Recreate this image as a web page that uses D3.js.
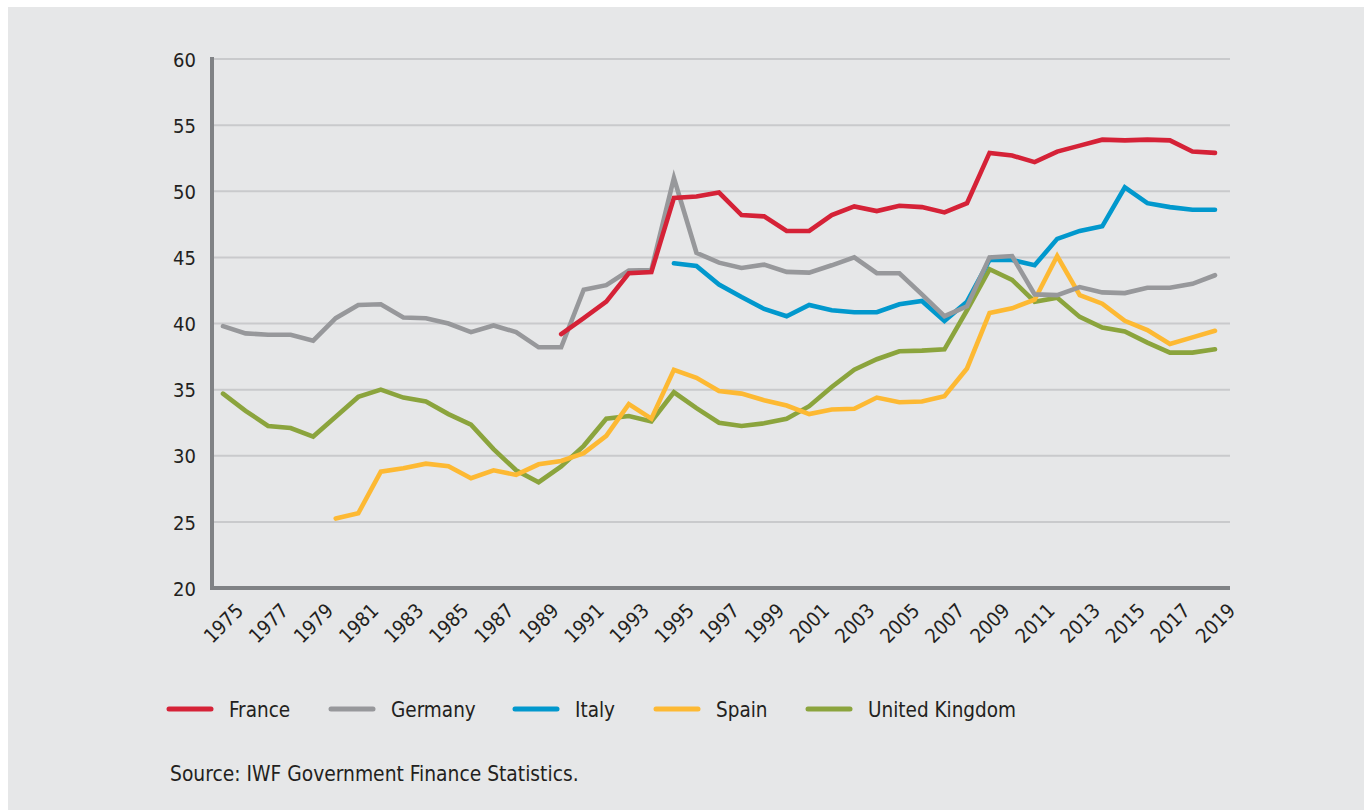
<!DOCTYPE html>
<html lang="en">
<head>
    <meta charset="UTF-8">
    <title>Government expenditure ratios</title>
    <style>
        body {
            margin: 0;
            background-color: #ffffff;
        }
        text {
            font-family: "Liberation Sans Narrow", "Arial Narrow", "DejaVu Sans Condensed", sans-serif;
            fill: #231f20;
        }
        .tick-label {
            font-size: 20px;
        }
        .legend-label {
            font-size: 20.5px;
        }
        .source {
            font-size: 20.8px;
        }
    </style>
    <script src="https://cdn.jsdelivr.net/npm/d3@7"></script>
</head>
<body>
<div id="chart"></div>

<script>
    // years on the x axis
    var years = d3.range(1975, 2020);
    var xTickYears = d3.range(1975, 2020, 2);
    var yTicks = [20, 25, 30, 35, 40, 45, 50, 55, 60];

    var countries = ["France", "Germany", "Italy", "Spain", "United Kingdom"];
    var colors = ["#d52237", "#97989b", "#0198cd", "#fdb933", "#8ba43d"];

    // values, first year of each series noted
    var franceStart = 1990;
    var france = [39.2, 40.4, 41.65, 43.8, 43.9, 49.5, 49.6, 49.9, 48.2, 48.1,
        47.0, 47.0, 48.2, 48.85, 48.5, 48.9, 48.8, 48.4, 49.1, 52.9,
        52.7, 52.2, 53.0, 53.45, 53.9, 53.85, 53.9, 53.85, 53.0, 52.9];

    var germanyStart = 1975;
    var germany = [39.8, 39.25, 39.15, 39.15, 38.7, 40.4, 41.4, 41.45, 40.45, 40.4,
        40.0, 39.35, 39.85, 39.35, 38.2, 38.2, 42.55, 42.9, 44.0, 44.05,
        51.0, 45.35, 44.6, 44.2, 44.45, 43.9, 43.85, 44.4, 45.0, 43.8,
        43.8, 42.2, 40.55, 41.3, 45.0, 45.1, 42.2, 42.15, 42.75, 42.35,
        42.3, 42.7, 42.7, 43.0, 43.65];

    var italyStart = 1995;
    var italy = [44.55, 44.35, 42.95, 42.0, 41.1, 40.55, 41.4, 41.0, 40.85, 40.85,
        41.45, 41.7, 40.2, 41.65, 44.8, 44.8, 44.4, 46.4, 47.0, 47.35,
        50.3, 49.1, 48.8, 48.6, 48.6];

    var spainStart = 1980;
    var spain = [25.25, 25.65, 28.8, 29.05, 29.4, 29.2, 28.3, 28.9, 28.55, 29.35,
        29.6, 30.2, 31.5, 33.9, 32.8, 36.5, 35.9, 34.9, 34.7, 34.2,
        33.8, 33.15, 33.5, 33.55, 34.4, 34.05, 34.1, 34.5, 36.6, 40.8,
        41.15, 41.8, 45.1, 42.15, 41.5, 40.2, 39.5, 38.45, 38.95, 39.45];

    var ukStart = 1975;
    var uk = [34.7, 33.4, 32.25, 32.1, 31.45, 32.95, 34.45, 35.0, 34.4, 34.1,
        33.15, 32.35, 30.5, 28.9, 28.0, 29.2, 30.75, 32.8, 33.0, 32.6,
        34.8, 33.6, 32.5, 32.25, 32.45, 32.8, 33.75, 35.2, 36.5, 37.3,
        37.9, 37.95, 38.05, 41.0, 44.1, 43.3, 41.65, 41.95, 40.5, 39.7,
        39.4, 38.55, 37.8, 37.8, 38.05];

    var sourceText = "Source: IWF Government Finance Statistics.";

    function toPoints(start, values) {
        return values.map(function (v, i) { return {year: start + i, value: v}; });
    }

    var series = [
        {name: "France", color: colors[0], points: toPoints(franceStart, france)},
        {name: "Germany", color: colors[1], points: toPoints(germanyStart, germany)},
        {name: "Italy", color: colors[2], points: toPoints(italyStart, italy)},
        {name: "Spain", color: colors[3], points: toPoints(spainStart, spain)},
        {name: "United Kingdom", color: colors[4], points: toPoints(ukStart, uk)}
    ];

    var width = 1364, height = 810;

    var svg = d3.select("#chart")
        .append("svg")
        .attr("width", width)
        .attr("height", height);

    // grey panel
    svg.append("rect")
        .attr("x", 8)
        .attr("y", 7)
        .attr("width", width - 8)
        .attr("height", height - 7)
        .attr("fill", "#e6e7e8");

    var x = d3.scaleLinear().domain([1975, 2019]).range([223, 1215]);
    var y = d3.scaleLinear().domain([20, 60]).range([588, 59]);

    // gridlines
    svg.append("g")
        .selectAll("line")
        .data(yTicks.filter(function (d) { return d > 20; }))
        .enter().append("line")
        .attr("x1", 214)
        .attr("x2", 1230)
        .attr("y1", function (d) { return y(d); })
        .attr("y2", function (d) { return y(d); })
        .attr("stroke", "#c9cacc")
        .attr("stroke-width", 2);

    // y axis labels
    var yAxis = d3.axisLeft(y).tickValues(yTicks).tickSize(0).tickPadding(0);
    var gy = svg.append("g")
        .attr("transform", "translate(196,0)")
        .call(yAxis);
    gy.select(".domain").remove();
    gy.selectAll("text")
        .attr("class", "tick-label")
        .attr("fill", "#231f20")
        .attr("dy", "0.36em");

    // x axis labels, rotated
    var xAxis = d3.axisBottom(x).tickValues(xTickYears).tickFormat(d3.format("d")).tickSize(0);
    var gx = svg.append("g")
        .attr("transform", "translate(0,588)")
        .call(xAxis);
    gx.select(".domain").remove();
    gx.selectAll("text")
        .attr("class", "tick-label")
        .attr("fill", "#231f20")
        .attr("y", 0)
        .attr("dy", 0)
        .attr("text-anchor", "end")
        .attr("transform", "translate(21,24) rotate(-45)");
    gx.attr("font-family", null).attr("font-size", null);
    gy.attr("font-family", null).attr("font-size", null);

    // axis lines
    svg.append("line")
        .attr("x1", 212).attr("x2", 212)
        .attr("y1", 57).attr("y2", 590)
        .attr("stroke", "#808285")
        .attr("stroke-width", 4);
    svg.append("line")
        .attr("x1", 210).attr("x2", 1230)
        .attr("y1", 588).attr("y2", 588)
        .attr("stroke", "#808285")
        .attr("stroke-width", 4);

    var line = d3.line()
        .defined(function (d) { return d.value != null; })
        .x(function (d) { return x(d.year); })
        .y(function (d) { return y(d.value); });

    // draw order: UK first, France on top
    var drawOrder = [4, 3, 2, 1, 0];
    svg.append("g")
        .selectAll("path")
        .data(drawOrder.map(function (i) { return series[i]; }))
        .enter().append("path")
        .attr("d", function (d) { return line(d.points); })
        .attr("fill", "none")
        .attr("stroke", function (d) { return d.color; })
        .attr("stroke-width", 4.6)
        .attr("stroke-linecap", "round")
        .attr("stroke-linejoin", "miter");

    // legend
    var legendX = [169, 331, 515, 656, 808];
    var legend = svg.append("g")
        .selectAll("g")
        .data(series)
        .enter().append("g")
        .attr("transform", function (d, i) { return "translate(" + legendX[i] + ",709)"; });
    legend.append("line")
        .attr("x1", 0).attr("x2", 42)
        .attr("y1", 0).attr("y2", 0)
        .attr("stroke", function (d) { return d.color; })
        .attr("stroke-width", 5)
        .attr("stroke-linecap", "round");
    legend.append("text")
        .attr("class", "legend-label")
        .attr("x", 60)
        .attr("y", 8)
        .text(function (d) { return d.name; });

    svg.append("text")
        .attr("class", "source")
        .attr("x", 170)
        .attr("y", 781)
        .text(sourceText);
</script>
</body>
</html>
